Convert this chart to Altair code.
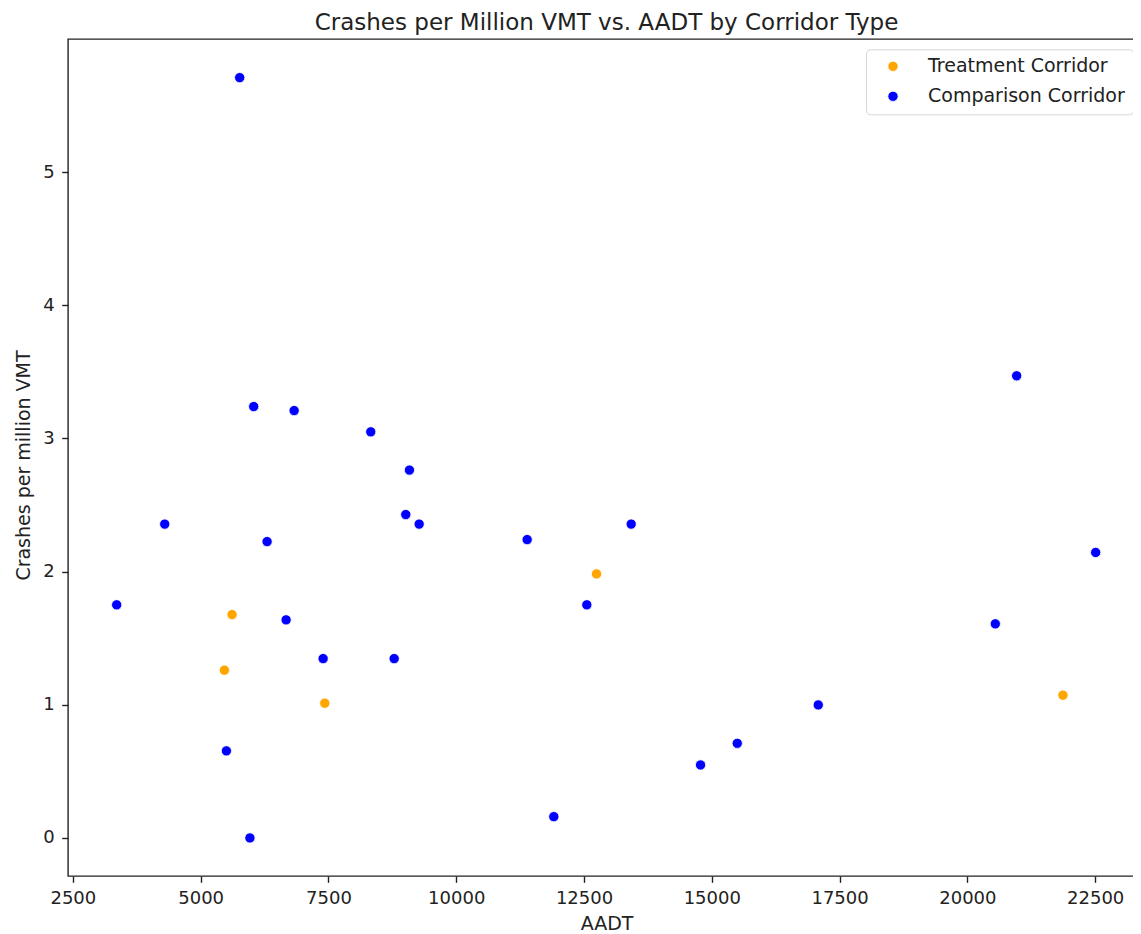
import altair as alt
import pandas as pd

# --- data ---
comparison_aadt = [5764, 6038, 6829, 8328, 9085, 9013, 9275, 4297, 6300, 3357,
                   6672, 7396, 8786, 5504, 5964, 11388, 13423, 12555, 15498, 14780,
                   11909, 17083, 20964, 22510, 20547]
comparison_rate = [5.71, 3.24, 3.21, 3.05, 2.763, 2.429, 2.357, 2.357, 2.226, 1.751,
                   1.638, 1.347, 1.347, 0.654, 0.0, 2.241, 2.357, 1.751, 0.711, 0.548,
                   0.16, 0.999, 3.471, 2.144, 1.608]
treatment_aadt = [5615, 5465, 7428, 12745, 21870]
treatment_rate = [1.678, 1.26, 1.012, 1.983, 1.072]

groups = ["Treatment Corridor", "Comparison Corridor"]
group_colors = ["#FFA500", "#0000FF"]
x_ticks = [2500, 5000, 7500, 10000, 12500, 15000, 17500, 20000, 22500]
y_ticks = [0, 1, 2, 3, 4, 5]

rows = []
for a, r in zip(comparison_aadt, comparison_rate):
    rows.append({"AADT": a, "rate": r, "type": groups[1]})
for a, r in zip(treatment_aadt, treatment_rate):
    rows.append({"AADT": a, "rate": r, "type": groups[0]})
df = pd.DataFrame(rows)

FONT = "DejaVu Sans"

chart = alt.Chart(df).mark_circle(
    size=105, opacity=1, stroke="white", strokeWidth=0.8
).encode(
    x=alt.X("AADT:Q",
            scale=alt.Scale(domain=[2405, 23475], nice=False, zero=False),
            axis=alt.Axis(values=x_ticks, format="d", title="AADT", grid=False,
                          domain=False, tickColor="#222222", tickWidth=1.4, tickSize=6.3,
                          labelPadding=7, labelFontSize=18, labelFont=FONT,
                          labelColor="#222222", labelFlush=False,
                          titleFont=FONT, titleFontSize=19, titleFontWeight="normal",
                          titleColor="#222222", titleBaseline="alphabetic", titleY=53)),
    y=alt.Y("rate:Q",
            scale=alt.Scale(domain=[-0.2857, 6.0], nice=False, zero=False),
            axis=alt.Axis(values=y_ticks, title="Crashes per million VMT", grid=False,
                          domain=False, tickColor="#222222", tickWidth=1.4, tickSize=6.3,
                          labelPadding=7.5, labelFontSize=18, labelFont=FONT,
                          labelColor="#222222", labelFlush=False,
                          titleFont=FONT, titleFontSize=19, titleFontWeight="normal",
                          titleColor="#222222", titleBaseline="alphabetic",
                          titleX=-39, titleY=426)),
    color=alt.Color("type:N",
                    scale=alt.Scale(domain=groups, range=group_colors),
                    legend=alt.Legend(orient="none", legendX=798, legendY=10.3,
                                      title=None, direction="vertical",
                                      padding=7.5, rowPadding=10,
                                      strokeColor="#d6d6d6", fillColor="white",
                                      cornerRadius=4,
                                      labelFont=FONT, labelFontSize=19,
                                      labelColor="#222222", labelLimit=400,
                                      symbolType="circle", symbolSize=105,
                                      symbolStrokeColor="white", symbolStrokeWidth=0.8,
                                      symbolOpacity=1,
                                      symbolOffset=10, labelOffset=25.5)),
).properties(
    width=1077,
    height=837,
    background="white",
    title=alt.TitleParams("Crashes per Million VMT vs. AADT by Corridor Type",
                          font=FONT, fontSize=23, fontWeight="normal", color="#222222",
                          anchor="middle", baseline="alphabetic", offset=12, dy=25.5),
    padding={"left": 60, "top": 31, "right": -12, "bottom": 70},
    autosize=alt.AutoSizeParams(type="none"),
).configure_view(
    stroke="#222222", strokeWidth=1.4
)

chart.save("out.html", embed_options={"renderer": "svg", "actions": False})
